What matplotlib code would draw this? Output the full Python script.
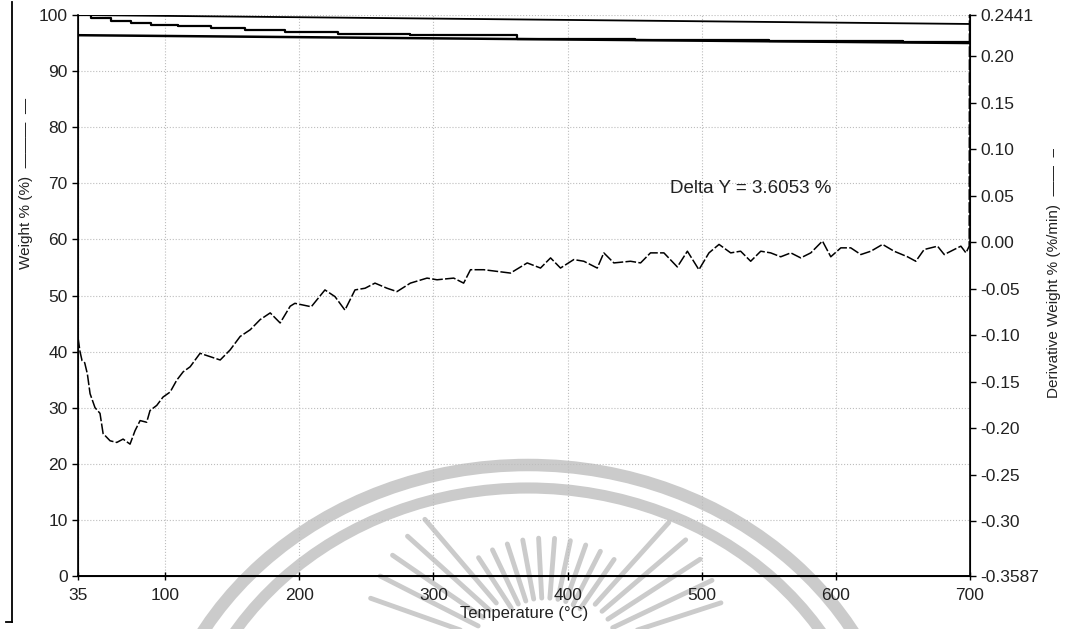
"""TGA thermogram: weight % and derivative weight vs temperature."""
import numpy as np
import matplotlib.pyplot as plt
from matplotlib.lines import Line2D
from matplotlib.patches import Arc

plt.rcParams['font.family'] = ['Liberation Sans', 'DejaVu Sans']

# Data
x_ticks = [35, 100, 200, 300, 400, 500, 600, 700]
weight_ticks = [0, 10, 20, 30, 40, 50, 60, 70, 80, 90, 100]
deriv_ticks = [-0.3587, -0.30, -0.25, -0.20, -0.15, -0.10, -0.05, 0.00,
               0.05, 0.10, 0.15, 0.20, 0.2441]
deriv_tick_labels = ['-0.3587', '-0.30', '-0.25', '-0.20', '-0.15', '-0.10',
                     '-0.05', '0.00', '0.05', '0.10', '0.15', '0.20', '0.2441']

# stepped weight curve (%)
weight_temp = [35.0, 44.7, 59.6, 74.6, 89.5, 109.6, 134.0, 159.6, 189.5,
               229.0, 282.8, 362.6, 450.0, 550.0, 650.0, 700.0]
weight_pct = [100.0, 99.4, 99.0, 98.6, 98.2, 98.0, 97.7, 97.3, 97.0,
              96.6, 96.4, 95.8, 95.6, 95.3, 95.1, 95.0]

# delta-Y reference lines
ref_temp = [35.0, 700.0]
ref_upper = [100.0, 98.4]
ref_lower = [96.4, 95.0]
delta_y = 3.6053

# derivative weight (%/min)
deriv_temp = [35.0, 36.5, 38.0, 40.0, 42.0, 44.0, 47.7, 51.4, 53.7, 58.9,
              63.9, 68.6, 73.8, 77.5, 81.3, 86.2, 88.7, 93.7, 98.4, 103.7,
              108.6, 113.4, 118.6, 126.0, 133.5, 141.0, 148.4, 155.9, 163.4, 170.8,
              178.3, 185.7, 193.2, 196.7, 208.9, 219.1, 226.6, 234.0, 241.5, 249.0,
              256.4, 265.4, 272.8, 282.8, 295.2, 302.7, 315.1, 322.5, 327.6, 337.5,
              347.5, 357.4, 369.9, 379.8, 387.3, 394.7, 404.6, 412.1, 422.1, 427.0,
              434.5, 446.9, 454.4, 461.8, 471.8, 481.8, 489.3, 497.9, 505.4, 512.9,
              521.6, 529.0, 536.5, 544.0, 551.4, 558.9, 566.4, 573.8, 581.3, 590.0,
              596.2, 603.7, 611.1, 618.6, 626.1, 634.8, 643.4, 653.4, 659.6, 665.8,
              675.8, 680.8, 688.2, 693.2, 697.0, 699.4, 699.6]
deriv_val = [-0.1025, -0.1176, -0.1272, -0.1296, -0.1417, -0.1628, -0.1779, -0.1839, -0.2056, -0.2134,
             -0.2152, -0.2116, -0.2170, -0.2026, -0.1917, -0.1935, -0.1809, -0.1754, -0.1664, -0.1610,
             -0.1483, -0.1393, -0.1339, -0.1194, -0.1230, -0.1266, -0.1158, -0.1013, -0.0941, -0.0832,
             -0.0760, -0.0868, -0.0688, -0.0657, -0.0694, -0.0513, -0.0585, -0.0730, -0.0513, -0.0495,
             -0.0440, -0.0495, -0.0531, -0.0440, -0.0386, -0.0404, -0.0386, -0.0440, -0.0296, -0.0296,
             -0.0314, -0.0332, -0.0223, -0.0278, -0.0169, -0.0278, -0.0187, -0.0205, -0.0278, -0.0115,
             -0.0223, -0.0205, -0.0223, -0.0115, -0.0115, -0.0266, -0.0097, -0.0296, -0.0115, -0.0024,
             -0.0115, -0.0097, -0.0205, -0.0097, -0.0115, -0.0157, -0.0115, -0.0169, -0.0115, 0.0012,
             -0.0157, -0.0061, -0.0061, -0.0133, -0.0097, -0.0024, -0.0097, -0.0157, -0.0205, -0.0079,
             -0.0043, -0.0133, -0.0079, -0.0043, -0.0115, -0.0043, 0.2600]

W, H = 1069, 629
fig = plt.figure(figsize=(W / 100, H / 100), dpi=100)

# scanned-page watermark, in pixel coordinates behind the chart
bg = fig.add_axes([0, 0, 1, 1], zorder=0)
bg.set_xlim(0, W)
bg.set_ylim(H, 0)
bg.axis('off')
wm = '#cbcbcb'
bg.add_patch(Arc((528, 800), 2 * 376, 2 * 335, theta1=180, theta2=360,
                 color=wm, lw=9))
bg.add_patch(Arc((528, 800), 2 * 348, 2 * 312, theta1=180, theta2=360,
                 color=wm, lw=8))
for ang in np.arange(18, 163, 7.5):
    a = np.deg2rad(ang)
    r0, r1 = (62, 122) if 55 < ang < 125 else (75, 185)
    bg.plot([545 + r0 * np.cos(a), 545 + r1 * np.cos(a)],
            [660 - r0 * np.sin(a), 660 - r1 * np.sin(a)],
            color=wm, lw=3.5, solid_capstyle='round')
fig.add_artist(Line2D([12 / W, 12 / W], [1 - 2 / H, 1 - 622 / H],
                      color='black', lw=1.3))
fig.add_artist(Line2D([6 / W, 12 / W], [1 - 622 / H, 1 - 622 / H],
                      color='black', lw=1.3))

ax = fig.add_axes([78 / W, 1 - 576 / H, 892 / W, 561 / H], zorder=1)
ax.patch.set_visible(False)
ax2 = ax.twinx()

ax.plot(weight_temp, weight_pct, color='black', lw=1.6, drawstyle='steps-post')
ax.plot(ref_temp, ref_upper, color='black', lw=1.3)
ax.plot(ref_temp, ref_lower, color='black', lw=1.8)
ax.plot([ref_temp[-1], ref_temp[-1]], [ref_upper[-1], ref_lower[-1]],
        color='black', lw=1.2)
ax.text(476, 69, 'Delta Y = %.4f %%' % delta_y, fontsize=13.5, va='center',
        color='#222222')

ax2.plot(deriv_temp, deriv_val, color='black', lw=1.1, dashes=(7, 1.5))

ax.set_xlim(35, 700)
ax.set_ylim(0, 100)
ax2.set_ylim(-0.3587, 0.2441)
ax.set_xticks(x_ticks)
ax.set_yticks(weight_ticks)
ax2.set_yticks(deriv_ticks)
ax2.set_yticklabels(deriv_tick_labels)

ax.grid(True, linestyle=':', color='#bdbdbd', lw=0.8)
for a in (ax, ax2):
    a.spines['top'].set_visible(False)
    a.tick_params(labelsize=12.5, length=4, width=1, colors='black',
                  labelcolor='#222222')
ax.tick_params(axis='x', direction='inout', length=6, pad=6)
ax.spines['left'].set_linewidth(1.2)
ax.spines['bottom'].set_linewidth(1.4)
ax2.spines['right'].set_linewidth(1.2)

ax.set_xlabel('Temperature (°C)', fontsize=12, labelpad=2, color='#222222')
ax.set_ylabel('Weight % (%)  ———  —', fontsize=11, color='#222222')
ax.yaxis.set_label_coords(-45 / 892, 0.70)
ax2.set_ylabel('Derivative Weight % (%/min)  ——  –', fontsize=11,
               color='#222222')
ax2.yaxis.set_label_coords(1 + 77 / 892, 0.54)

plt.savefig('out.png', dpi=100)
